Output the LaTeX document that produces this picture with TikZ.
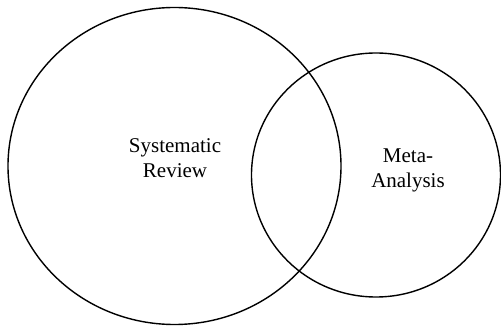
\documentclass[tikz,border=0pt]{standalone}
\usepackage{fontspec}
\setmainfont{Liberation Serif}
\usetikzlibrary{positioning, calc, shapes}

\begin{document}
\begin{tikzpicture}[x=1pt, y=-1pt, line width=1.4pt,
    label/.style={align=center, font=\fontsize{21}{25}\selectfont, inner sep=0pt}]
\useasboundingbox (0, 0) rectangle (501, 326);
\draw (174.5, 166) ellipse  (166.5 and 158.5);
\draw (376, 175) ellipse  (124.5 and 122);
\node[label] (SR) at (175, 158) {Systematic\\Review};
\node[label] (MA) at (408, 170) {Meta-\\Analysis};
\end{tikzpicture}
\end{document}
